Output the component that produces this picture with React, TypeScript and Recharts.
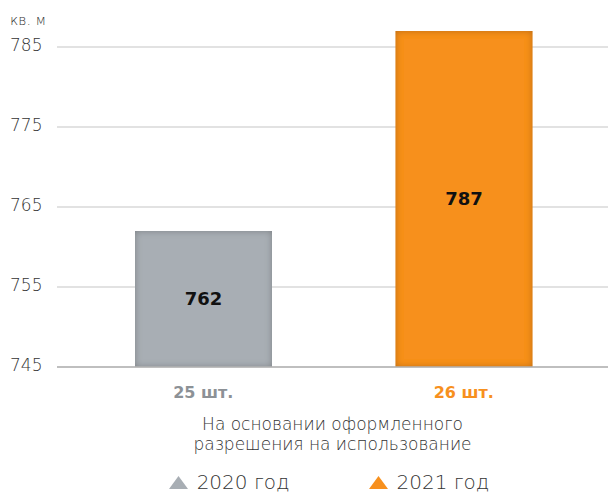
import {BarChart, Bar, XAxis, YAxis, CartesianGrid, Cell, LabelList, Label, Legend} from 'recharts';

import type {ReactElement} from 'react';

document.body.style.margin = '0';

const years = ['2020 год', '2021 год'];
const areas = [762, 787];
const counts = ['25 шт.', '26 шт.'];
const yTicks = [745, 755, 765, 775, 785];
const colors = ['#a8aeb4', '#f7901e'];
const countColors = ['#8c9196', '#f7901e'];

const FONT = '"DejaVu Sans", sans-serif';

const data = years.map((year, i) => ({year, area: areas[i], count: counts[i]}));

function YTick({y, payload}: any): ReactElement {
	return (
		<text x={10} y={y} dy={4} fontSize={17} fontWeight={200} fontFamily={FONT} fill={'#333'}>
			{payload.value}
		</text>
	);
}

function XTick({x, y, payload, index}: any): ReactElement {
	return (
		<text x={x} y={y} dy={31} textAnchor={'middle'} fontSize={16} fontWeight={700} fontFamily={FONT} fill={countColors[index]}>
			{payload.value}
		</text>
	);
}

function AxisCaption({viewBox}: any): ReactElement {
	const cx = viewBox.x + viewBox.width / 2;
	return (
		<text x={cx} y={viewBox.y} textAnchor={'middle'} fontSize={17} fontWeight={200} fontFamily={FONT} fill={'#333'}>
			<tspan x={cx} dy={63}>{'На основании оформленного'}</tspan>
			<tspan x={cx} dy={20}>{'разрешения на использование'}</tspan>
		</text>
	);
}

function UnitCaption(): ReactElement {
	return (
		<text x={10} y={25} fontSize={14} fontWeight={200} fontFamily={FONT} fill={'#333'}>
			{'кв. м'}
		</text>
	);
}

function ShadedBar(props: any): ReactElement {
	const {x, y, width, height, fill} = props;
	return <rect x={x} y={y} width={width} height={height} fill={fill} filter={'url(#innerShade)'} />;
}

function LegendRow(): ReactElement {
	return (
		<div style={{display: 'flex', justifyContent: 'center', gap: 79, height: 26, alignItems: 'center', fontFamily: FONT}}>
			{years.map((year, i) => (
				<div key={year} style={{display: 'flex', alignItems: 'center', gap: 9}}>
					<svg width={19} height={13}>
						<polygon points={'9.5,0 19,13 0,13'} fill={colors[i]} />
					</svg>
					<span style={{fontSize: 20, fontWeight: 200, color: '#333'}}>{year}</span>
				</div>
			))}
		</div>
	);
}

export default function App(): ReactElement {
	return (
		<div style={{fontFamily: FONT}}>
			<BarChart width={608} height={495} data={data} margin={{top: 15, right: 0, left: 0, bottom: 0}}>
				<defs>
					<filter id={'innerShade'} x={'-10%'} y={'-10%'} width={'120%'} height={'120%'}>
						<feFlood floodColor={'#000'} floodOpacity={0.5} />
						<feComposite in2={'SourceAlpha'} operator={'out'} />
						<feGaussianBlur stdDeviation={3.5} />
						<feComposite in2={'SourceAlpha'} operator={'in'} result={'shade'} />
						<feMerge>
							<feMergeNode in={'SourceGraphic'} />
							<feMergeNode in={'shade'} />
						</feMerge>
					</filter>
				</defs>
				<CartesianGrid vertical={false} horizontalValues={yTicks} stroke={'#d9d9d9'} strokeWidth={1.5} />
				<XAxis
					dataKey={'count'}
					height={102}
					padding={{left: 16, right: 14}}
					tickLine={false}
					tickSize={0}
					tickMargin={0}
					axisLine={{stroke: '#b3b3b3', strokeWidth: 1.5}}
					tick={<XTick />}
					interval={0}
				>
					<Label content={<AxisCaption />} />
				</XAxis>
				<YAxis
					width={57}
					domain={[745, 789]}
					ticks={yTicks}
					allowDataOverflow
					axisLine={false}
					tickLine={false}
					tick={<YTick />}
				>
					<Label content={<UnitCaption />} />
				</YAxis>
				<Legend
					verticalAlign={'bottom'}
					content={<LegendRow />}
					wrapperStyle={{left: 50, width: 558, top: 469}}
				/>
				<Bar dataKey={'area'} barSize={137} shape={<ShadedBar />} isAnimationActive={false}>
					{data.map((d, i) => (
						<Cell key={d.year} fill={colors[i]} />
					))}
					<LabelList
						dataKey={'area'}
						position={'center'}
						fontSize={18}
						fontWeight={700}
						fontFamily={FONT}
						fill={'#111'}
					/>
				</Bar>
			</BarChart>
		</div>
	);
}
